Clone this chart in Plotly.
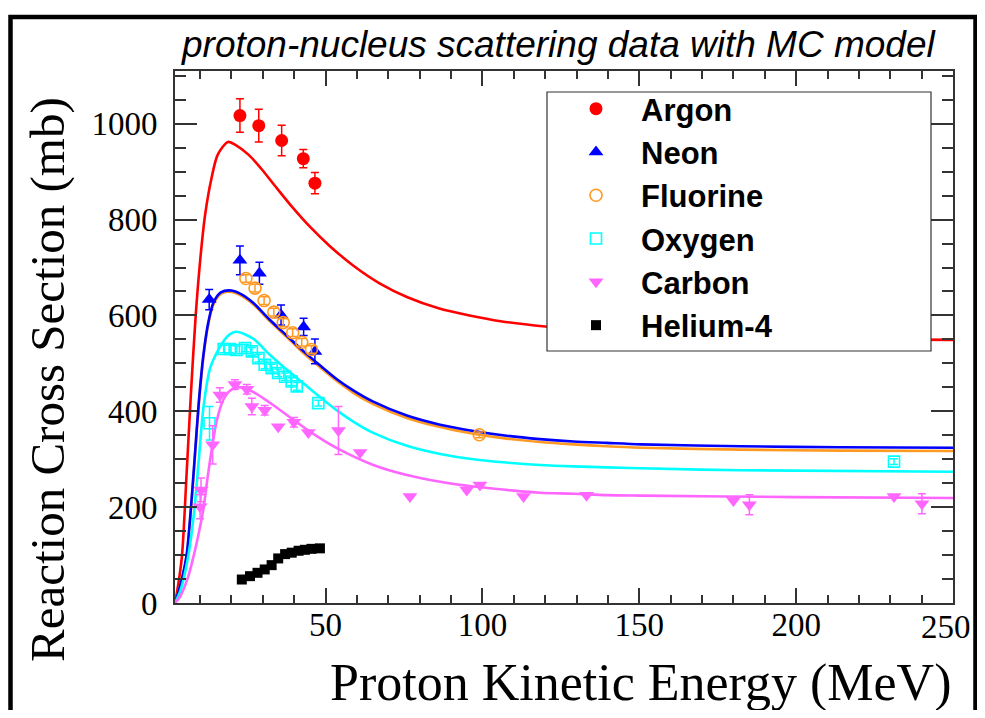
import plotly.graph_objects as go

# ---------------- data ----------------
# Measured cross sections (MeV, mb)
E_ar = [22.7, 28.7, 36.0, 42.9, 46.6]
sig_ar = [1017, 996, 965, 927, 876]
err_ar = [35, 34, 32, 19, 22]

E_ne = [12.9, 22.7, 28.9, 35.8, 43.0, 46.6]
sig_ne = [633, 715, 688, 601, 576, 525]
err_ne = [21, 30, 23, 21, 18, 26]

E_f = [24.6, 27.5, 30.4, 33.5, 36.5, 39.5, 42.4, 45.5, 99.0]
sig_f = [677, 657, 631, 607, 585, 564, 544, 529, 351]
err_f = [8, 8, 8, 8, 8, 8, 8, 8, 6]

E_o = [13.0, 17.5, 19.5, 21.6, 24.3, 26.5, 28.6, 30.6, 32.8, 34.9, 37.1, 39.2, 40.8, 47.7, 231.2]
sig_o = [375, 530, 530, 528, 532, 525, 511, 497, 490, 480, 472, 462, 452, 417, 295]
err_o = [35, 8, 8, 8, 8, 8, 8, 8, 8, 8, 8, 8, 8, 6, 6]

E_c = [10.0, 10.3, 14.0, 16.3, 21.1, 24.9, 26.5, 30.6, 34.9, 39.9, 44.5, 54.1, 61.0,
       76.9, 95.0, 99.2, 113.1, 133.2, 180.0, 185.1, 231.2, 240.1]
sig_c = [201, 236, 330, 434, 456, 446, 410, 402, 368, 377, 356, 360, 314,
         222, 236, 246, 222, 225, 214, 205, 222, 207]
err_c = [25, 25, 40, 15, 10, 10, 17, 10, 0, 10, 0, 50, 0,
         0, 0, 0, 0, 0, 0, 21, 0, 21]

E_he = [23.3, 25.9, 28.3, 30.6, 32.8, 34.9, 37.1, 39.2, 41.4, 43.4, 45.5, 48.2]
sig_he = [49, 56, 63, 70, 79, 93, 102, 105, 109, 111, 113, 114]

# MC model curves (MeV, mb)
E_mc_ar = [2.0, 2.7, 4.2, 5.7, 7.1, 8.6, 10.1, 11.6, 13.6, 15.6, 18.9, 21.5, 25.5, 29.5, 34.4,
           39.4, 45.3, 51.3, 59.2, 67.2, 76.1, 86.0, 95.9, 105.8, 120, 140, 160, 180, 200, 225, 250]
mc_ar = [0, 25, 97, 270, 440, 600, 720, 810, 885, 935, 962, 955, 935, 906, 866,
         826, 783, 745, 702, 667, 638, 615, 600, 588, 577, 567, 560, 556, 553, 550, 549]

E_mc_ne = [2.0, 2.7, 4.2, 5.7, 7.1, 8.3, 9.6, 11.1, 12.6, 14.2, 16.6, 20.0, 23.5, 27.0, 32.2, 37.6,
           43.0, 48.2, 53.6, 59.2, 65.2, 75.9, 86.5, 97.1, 107.7, 118.3, 129.0, 139.6, 150.5, 182.2, 214.0, 250]
mc_ne = [0, 15, 50, 100, 200, 305, 420, 520, 585, 626, 648, 652, 643, 626, 591, 558,
         525, 496, 467, 442, 420, 391, 372, 359, 349, 342, 337, 334, 331, 327, 325, 324]
mc_f = [0, 15, 50, 98, 196, 300, 414, 515, 581, 622, 645, 649, 640, 623, 588, 555,
        521, 492, 463, 437, 415, 386, 367, 353, 343, 336, 331, 327, 324, 320, 318, 317]

E_mc_o = [2.0, 3.7, 6.2, 8.1, 9.6, 11.1, 13.2, 16.4, 19.0, 21.6, 27.0, 32.2, 37.6, 43.0, 48.2, 53.6,
          59.2, 65.2, 75.9, 86.5, 97.1, 107.7, 118.3, 129.0, 139.6, 150.5, 182.2, 250]
mc_o = [0, 25, 97, 190, 300, 410, 490, 535, 558, 566, 551, 518, 487, 458, 430, 402,
        377, 355, 328, 311, 300, 293, 288, 285, 283, 281, 277, 274]

E_mc_c = [2.0, 3.6, 6.2, 7.9, 8.9, 11.0, 12.4, 13.7, 15.3, 17.4, 19.5, 22.2, 25.0, 28.1, 34.4,
          40.8, 47.2, 53.6, 65.2, 75.9, 86.5, 97.1, 107.7, 118.3, 129.0, 139.6, 150.5, 200.1, 250]
mc_c = [0, 13, 55, 97, 125, 194, 262, 320, 380, 424, 443, 450, 446, 436, 408,
        377, 348, 323, 288, 267, 253, 243, 236, 230, 228, 225, 224, 221, 219]

x_ticks = [50, 100, 150, 200, 250]
x_tick_labels = ["50", "100", "150", "200", "250"]
y_ticks = [0, 200, 400, 600, 800, 1000]

# ---------------- styles ----------------
C_AR = "#ff0000"
C_NE = "#0000ff"
C_F = "#ff9922"
C_O = "#00ffff"
C_C = "#ff66ff"
C_HE = "#000000"

fig = go.Figure()

def curve(x, y, color):
    fig.add_trace(go.Scatter(x=x, y=y, mode="lines", showlegend=False, hoverinfo="skip",
                             line=dict(color=color, width=2.6, shape="spline", smoothing=0.8)))

curve(E_mc_ar, mc_ar, C_AR)
curve(E_mc_ne, mc_f, C_F)
curve(E_mc_ne, mc_ne, C_NE)
curve(E_mc_o, mc_o, C_O)
curve(E_mc_c, mc_c, C_C)

def points(name, x, y, err, color, symbol, size, open_=False):
    mk = dict(symbol=symbol, size=size, color=color)
    if open_:
        mk["line"] = dict(color=color, width=1.6)
    else:
        mk["line"] = dict(width=0)
    kw = {}
    if err is not None:
        kw["error_y"] = dict(type="data", array=err, color=color, thickness=1.5, width=4)
    fig.add_trace(go.Scatter(x=x, y=y, mode="markers", name=name, marker=mk, **kw))

points("Argon", E_ar, sig_ar, err_ar, C_AR, "circle", 13)
points("Neon", E_ne, sig_ne, err_ne, C_NE, "triangle-up", 13)
points("Fluorine", E_f, sig_f, err_f, C_F, "circle-open", 12, open_=True)
points("Oxygen", E_o, sig_o, err_o, C_O, "square-open", 11, open_=True)
points("Carbon", E_c, sig_c, err_c, C_C, "triangle-down", 13)
points("Helium-4", E_he, sig_he, None, C_HE, "square", 10)

# ---------------- layout ----------------
OFF = 8                      # page body margin of the browser
W, H = 969, 702              # figure fits the 985x718 window with the body margin
L, R, T, B = 167, 24, 63, 107
pw, ph = W - L - R, H - T - B

def px(x):                   # page pixel -> paper x
    return (x - OFF - L) / pw

def py(y):                   # page pixel -> paper y
    return (OFF + T + ph - y) / ph

tickfont = dict(family="Liberation Serif, Times New Roman, serif", size=33, color="black")

# the last x label sits at the right edge of the page; it is drawn as an annotation
# (shifted slightly left, as in the reference) so that it is not hidden.
shown_x_labels = x_tick_labels[:-1] + [""]

fig.update_layout(
    width=W, height=H,
    margin=dict(l=L, r=R, t=T, b=B),
    paper_bgcolor="white", plot_bgcolor="white",
    showlegend=True,
    legend=dict(x=px(551), y=py(82), xanchor="left", yanchor="top",
                bgcolor="rgba(0,0,0,0)", borderwidth=0,
                font=dict(family="Liberation Sans, Arial, sans-serif", size=31, color="black",
                          weight="bold"),
                itemwidth=80),
    xaxis=dict(range=[2, 250], tickmode="array", tickvals=x_ticks, ticktext=shown_x_labels,
               ticks="inside", ticklen=15, tickwidth=2, tickcolor="#333",
               showline=True, linewidth=2, linecolor="#333", mirror="ticks",
               showgrid=False, zeroline=False, tickfont=tickfont, ticklabelstandoff=-9,
               minor=dict(ticks="inside", tick0=0, dtick=10, ticklen=8, tickwidth=1.5,
                          tickcolor="#333", showgrid=False)),
    yaxis=dict(range=[0, 1110], tickmode="array", tickvals=y_ticks,
               ticks="inside", ticklen=22, tickwidth=2, tickcolor="#333",
               showline=True, linewidth=2, linecolor="#333", mirror="ticks",
               showgrid=False, zeroline=False, tickfont=tickfont, ticklabelstandoff=9,
               minor=dict(ticks="inside", tick0=0, dtick=50, ticklen=11, tickwidth=1.5,
                          tickcolor="#333", showgrid=False)),
    shapes=[
        # legend box
        dict(type="rect", xref="paper", yref="paper", x0=px(547), x1=px(931), y0=py(351), y1=py(92),
             fillcolor="white", line=dict(color="#333", width=1.2), layer="above"),
        # outer slide frame (left, top, right edges)
        dict(type="rect", xref="paper", yref="paper", x0=px(10.5), x1=px(975.5), y0=py(740), y1=py(17),
             fillcolor="rgba(0,0,0,0)", line=dict(color="black", width=4.5), layer="above"),
    ],
    annotations=[
        dict(text=x_tick_labels[-1], xref="paper", yref="paper",
             x=px(946), y=py(627), xanchor="center", yanchor="middle", showarrow=False,
             font=tickfont),
        dict(text="proton-nucleus scattering data with MC model", xref="paper", yref="paper",
             x=px(558), y=py(45), xanchor="center", yanchor="middle", showarrow=False,
             font=dict(family="Liberation Sans, Arial, sans-serif", size=37, color="black",
                       style="italic")),
        dict(text="Reaction Cross Section (mb)", xref="paper", yref="paper",
             x=px(47), y=py(380), xanchor="center", yanchor="middle", showarrow=False,
             textangle=-90,
             font=dict(family="Liberation Serif, Times New Roman, serif", size=49, color="black")),
        dict(text="Proton Kinetic Energy (MeV)", xref="paper", yref="paper",
             x=px(953), y=py(683), xanchor="right", yanchor="middle", showarrow=False,
             font=dict(family="Liberation Serif, Times New Roman, serif", size=52, color="black")),
    ],
)

fig.write_html("out.html")
